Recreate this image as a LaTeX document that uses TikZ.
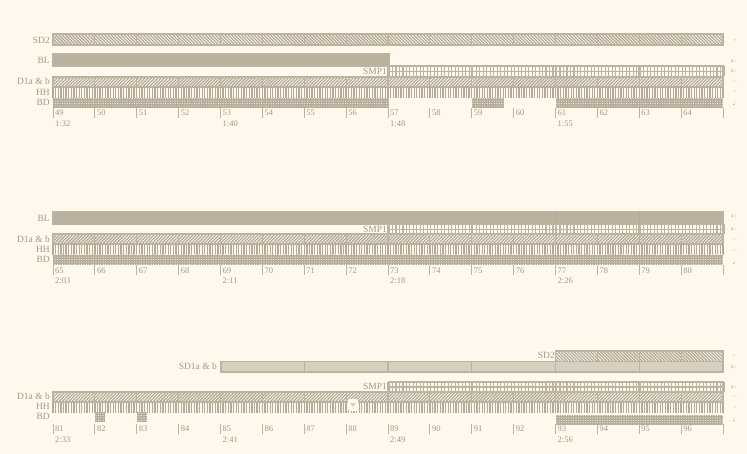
\documentclass[tikz,border=0pt]{standalone}
\usepackage{fontspec}
\setmainfont{Liberation Serif}
\newfontfamily\symfont{DejaVu Sans}
\usetikzlibrary{patterns,patterns.meta}
\definecolor{bg}{HTML}{FEF9EC}
\definecolor{ink}{HTML}{BCB3A1}
\definecolor{inkd}{HTML}{B4AA97}
\definecolor{blfill}{HTML}{BAB19F}
\definecolor{sdfill}{HTML}{D8D0BF}
\definecolor{txt}{HTML}{A39A87}
\newcommand\mx[1]{53+#1*41.875}
\tikzset{
  lab/.style={anchor=east, inner sep=0pt, text=txt, font=\fontsize{9.5}{9.5}\selectfont},
  num/.style={anchor=west, inner sep=0pt, text=txt, font=\fontsize{8.5}{8.5}\selectfont},
  mk/.style={anchor=center, inner sep=0pt, text=txt, font=\symfont\fontsize{6}{6}\selectfont},
  box/.style={draw=ink, line width=1.1pt},
  sdbox/.style={box, pattern={Lines[angle=-45,distance=2.3pt,line width=1.3pt]}, pattern color=inkd},
  dbox/.style={box, pattern={Lines[angle=45,distance=2.3pt,line width=1.3pt]}, pattern color=inkd},
  div/.style={draw=ink, line width=1.1pt},
  hhline/.style={draw=inkd, line width=1.3pt},
  gridline/.style={draw=ink, line width=1.1pt},
  tick/.style={draw=ink, line width=0.8pt},
}
% SMP1 grid: ytop, ybot
\newcommand\smpgrid[2]{%
  \fill[bg] (389,#1) rectangle (723,#2);
  \foreach \i in {0,...,96} \draw[gridline] ({389+\i*3.4896},#1) -- ({389+\i*3.4896},#2);
  \draw[gridline] (389,{(#1+#2)/2}) -- (723,{(#1+#2)/2});
  \foreach \m in {8,10,12,14} \draw[ink, line width=2pt] ({\mx{\m}},#1) -- ({\mx{\m}},#2);
  \draw[box] (389,#1) rectangle (723,#2);
}
% HH lines: ytop, ybot
\newcommand\hhrow[2]{%
  \foreach \i in {0,...,256} \draw[hhline] ({53+\i*2.6172},#1) -- ({53+\i*2.6172},#2);
}
% D1a & b row
\newcommand\drow[2]{%
  \draw[dbox] (53,#1) rectangle (723,#2);
  \foreach \m in {1,...,15} \draw[div] ({\mx{\m}},#1) -- ({\mx{\m}},#2);
}
% BD fill
\newcommand\bdrect[4]{%
  \fill[inkd] (#1,#2) rectangle (#3,#4);
  \fill[pattern={Dots[distance=2.4pt,radius=0.55pt]}, pattern color=bg] (#1,#2) rectangle (#3,#4);
}
% axis: ytop, first number
\newcommand\axisrow[2]{%
  \foreach \m in {0,...,16} \draw[tick] ({\mx{\m}},#1) -- ({\mx{\m}},#1+10);
  \foreach \m [evaluate=\m as \n using int(#2+\m)] in {0,...,15}
    \node[num] (n\n) at ({\mx{\m}+2},#1+5) {\n};
}
\begin{document}
\begin{tikzpicture}[x=1pt,y=-1pt]
\useasboundingbox (0,0) rectangle (747,454);
\fill[bg] (0,0) rectangle (747,454);

% ================= Section 1 =================
\draw[sdbox] (53,34) rectangle (723,45);
\foreach \m in {1,...,15} \draw[div] ({\mx{\m}},34) -- ({\mx{\m}},45);
\draw[box, fill=blfill] (53,54) rectangle (389,66);
\smpgrid{66}{76.5}
\drow{77}{87}
\hhrow{87.5}{98}
\bdrect{53}{98}{389}{108}
\bdrect{472}{98}{504}{108}
\bdrect{555.5}{98}{723}{108}
\axisrow{108}{49}
\node[lab] (a1) at (50,40) {SD2};
\node[lab] (a2) at (50,60) {BL};
\node[lab] (a3) at (387,71.5) {SMP1};
\node[lab] (a4) at (50,81.5) {D1a \& b};
\node[lab] (a5) at (50,92) {HH};
\node[lab] (a6) at (50,102.5) {BD};
\node[num] (t1) at (55,124) {1:32};
\node[num] (t2) at ({\mx{4}+2},124) {1:40};
\node[num] (t3) at ({\mx{8}+2},124) {1:48};
\node[num] (t4) at ({\mx{12}+2},124) {1:55};
\node[mk] (r1) at (735,41) {◦};
\node[mk] (r2) at (734,61) {♯◦};
\node[mk] (r3) at (734,71.5) {♯◦};
\node[mk] (r4) at (735,82) {··};
\node[mk] (r5) at (735,92) {◦};
\node[mk] (r6) at (734,103) {♩};

% ================= Section 2 =================
\draw[box, fill=blfill] (53,212) rectangle (723,224.5);
\foreach \m in {12,14} \draw[draw=inkd, line width=0.8pt] ({\mx{\m}},212) -- ({\mx{\m}},224.5);
\smpgrid{224.5}{234}
\drow{234}{244}
\hhrow{244.5}{255}
\bdrect{53}{255}{723}{265}
\axisrow{265.5}{65}
\node[lab] (b1) at (50,218) {BL};
\node[lab] (b2) at (387,229.5) {SMP1};
\node[lab] (b3) at (50,239) {D1a \& b};
\node[lab] (b4) at (50,249.5) {HH};
\node[lab] (b5) at (50,259.5) {BD};
\node[num] (t5) at (55,281) {2:03};
\node[num] (t6) at ({\mx{4}+2},281) {2:11};
\node[num] (t7) at ({\mx{8}+2},281) {2:18};
\node[num] (t8) at ({\mx{12}+2},281) {2:26};
\node[mk] (r7) at (734,216) {♯◦};
\node[mk] (r8) at (734,229) {♯◦};
\node[mk] (r9) at (735,240) {··};
\node[mk] (r10) at (735,251) {··};
\node[mk] (r11) at (734,262) {♩};

% ================= Section 3 =================
\draw[sdbox] (555.5,351) rectangle (723,361.5);
\foreach \m in {13,14,15} \draw[div] ({\mx{\m}},351) -- ({\mx{\m}},361.5);
\draw[box, fill=sdfill] (221,361.5) rectangle (723,372);
\foreach \m in {6,8,10,12,14} \draw[div] ({\mx{\m}},361.5) -- ({\mx{\m}},372);
\smpgrid{382}{392}
\drow{392}{402}
\hhrow{402.5}{413}
\bdrect{95}{412}{105}{422}
\bdrect{137}{412}{147}{422}
\bdrect{555.5}{415}{723}{425}
% white blob
\fill[bg, rounded corners=2pt] (348,399) rectangle (358,411);
\fill[sdfill] (350,403) -- (356,403) -- (353,407) -- cycle;
\axisrow{424}{81}
\node[lab] (c1) at (555,355.5) {SD2};
\node[lab] (c2) at (217,366.5) {SD1a \& b};
\node[lab] (c3) at (387,386.5) {SMP1};
\node[lab] (c4) at (50,396.5) {D1a \& b};
\node[lab] (c5) at (50,406.5) {HH};
\node[lab] (c6) at (50,416.5) {BD};
\node[num] (t9) at (55,439.5) {2:33};
\node[num] (t10) at ({\mx{4}+2},439.5) {2:41};
\node[num] (t11) at ({\mx{8}+2},439.5) {2:49};
\node[num] (t12) at ({\mx{12}+2},439.5) {2:56};
\node[mk] (r12) at (734,356) {◦};
\node[mk] (r13) at (734,367) {♯◦};
\node[mk] (r14) at (734,387) {♯◦};
\node[mk] (r15) at (735,397) {··};
\node[mk] (r16) at (735,408) {◦};
\node[mk] (r17) at (734,419) {♩};
\end{tikzpicture}
\end{document}
